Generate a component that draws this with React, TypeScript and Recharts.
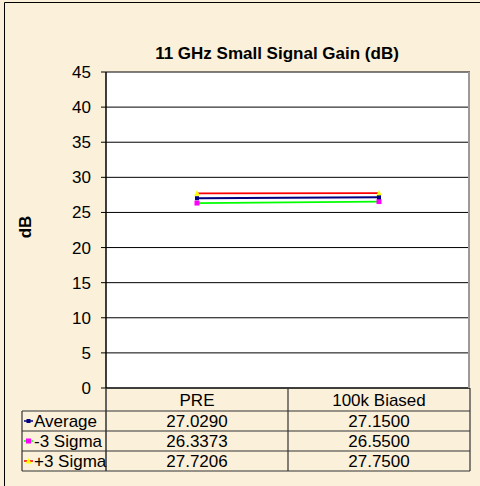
import React from 'react';
import { LineChart, Line, XAxis, YAxis, CartesianGrid } from 'recharts';

const categories = ['PRE', '100k Biased'];
const averageValues = [27.029, 27.15];
const minus3SigmaValues = [26.3373, 26.55];
const plus3SigmaValues = [27.7206, 27.75];
const yTicks = [0, 5, 10, 15, 20, 25, 30, 35, 40, 45];
const seriesNames = ['Average', '-3 Sigma', '+3 Sigma'];
const titleText = '11 GHz Small Signal Gain (dB)';
const yLabelText = 'dB';

const data = categories.map((c, i) => ({
  category: c,
  avg: averageValues[i],
  minus: minus3SigmaValues[i],
  plus: plus3SigmaValues[i],
}));

const W = 480;
const H = 486;
const PL = 106;
const PR = 470;
const PT = 72;
const PB = 388;
const ROW_H = 20;
const HEADER_BOTTOM = 411;
const TABLE_LEFT = 22;
const FONT = '"Liberation Sans", Arial, sans-serif';
const BG = '#FBF0DA';

const seriesStyles = [
  { line: '#000080', marker: '#000080', shape: 'small' },
  { line: '#00FF00', marker: '#FF00FF', shape: 'square' },
  { line: '#FF0000', marker: '#FFFF00', shape: 'triangle' },
];
const seriesValues = [averageValues, minus3SigmaValues, plus3SigmaValues];

function Marker({ cx, cy, shape, fill }: { cx: number; cy: number; shape: string; fill: string }) {
  if (shape === 'square') {
    return <rect x={cx - 2.5} y={cy - 2.5} width={5} height={5} fill={fill} />;
  }
  if (shape === 'triangle') {
    return <polygon points={`${cx},${cy - 3} ${cx + 3},${cy + 2.5} ${cx - 3},${cy + 2.5}`} fill={fill} />;
  }
  return <rect x={cx - 2} y={cy - 2} width={4} height={4} fill={fill} />;
}

function makeDot(idx: number) {
  const st = seriesStyles[idx];
  return (p: any) => {
    if (p == null || p.cx == null || p.cy == null) return <g key={`e-${idx}-${p?.index}`} />;
    return (
      <g key={`d-${idx}-${p.index}`}>
        <Marker cx={p.cx} cy={p.cy} shape={st.shape} fill={st.marker} />
      </g>
    );
  };
}

export default function App() {
  const colW = (PR - PL) / categories.length;
  return (
    <div style={{ position: 'absolute', left: 0, top: 0, width: W, height: H, background: BG, overflow: 'hidden' }}>
      <LineChart width={W} height={H} data={data} margin={{ top: PT, right: W - PR, bottom: 75, left: 0 }}>
        <CartesianGrid vertical={false} horizontal stroke="#000" strokeWidth={1} fill="#fff" fillOpacity={1} />
        <XAxis
          dataKey="category"
          scale="band"
          height={23}
          interval={0}
          tickLine={false}
          tickSize={0}
          tickMargin={6}
          axisLine={{ stroke: '#000', strokeWidth: 1.2 }}
          tick={{ fontSize: 17, fill: '#000', fontFamily: FONT }}
        />
        <YAxis
          width={PL}
          domain={[0, 45]}
          ticks={yTicks}
          interval={0}
          tickSize={5}
          tickMargin={10}
          axisLine={{ stroke: '#000', strokeWidth: 1.5 }}
          tickLine={{ stroke: '#000' }}
          tick={{ fontSize: 17, fill: '#000', fontFamily: FONT }}
        />
        <Line dataKey="minus" stroke={seriesStyles[1].line} strokeWidth={1.8} dot={makeDot(1)} isAnimationActive={false} />
        <Line dataKey="plus" stroke={seriesStyles[2].line} strokeWidth={1.6} dot={makeDot(2)} isAnimationActive={false} />
        <Line dataKey="avg" stroke={seriesStyles[0].line} strokeWidth={2} dot={makeDot(0)} isAnimationActive={false} />
      </LineChart>
      <svg
        width={W}
        height={H}
        style={{ position: 'absolute', left: 0, top: 0, pointerEvents: 'none' }}
        fontFamily={FONT}
      >
        {/* outer border */}
        <line x1={4.5} y1={2.5} x2={W} y2={2.5} stroke="#000" strokeWidth={1} />
        <line x1={4.5} y1={2.5} x2={4.5} y2={H} stroke="#000" strokeWidth={1} />
        {/* title */}
        <text x={277} y={59} textAnchor="middle" fontSize={17} fontWeight="bold" fill="#000">
          {titleText}
        </text>
        {/* y label */}
        <text
          x={0}
          y={0}
          transform={`translate(31, 227) rotate(-90)`}
          textAnchor="middle"
          fontSize={17}
          fontWeight="bold"
          fill="#000"
        >
          {yLabelText}
        </text>
        {/* plot right border */}
        <line x1={PR - 1} y1={PT} x2={PR - 1} y2={PB} stroke="#9a9a9a" strokeWidth={2} />
        {/* table grid */}
        {[0, 1, 2, 3].map((r) => (
          <line
            key={`h-${r}`}
            x1={TABLE_LEFT}
            x2={PR}
            y1={HEADER_BOTTOM + r * ROW_H}
            y2={HEADER_BOTTOM + r * ROW_H}
            stroke="#333"
            strokeWidth={1.2}
          />
        ))}
        <line x1={TABLE_LEFT} x2={TABLE_LEFT} y1={HEADER_BOTTOM} y2={HEADER_BOTTOM + 3 * ROW_H} stroke="#333" strokeWidth={1.2} />
        {categories.map((_, i) => (
          <line
            key={`v-${i}`}
            x1={PL + i * colW}
            x2={PL + i * colW}
            y1={PB}
            y2={HEADER_BOTTOM + 3 * ROW_H}
            stroke="#333"
            strokeWidth={i === 0 ? 1.5 : 1.2}
          />
        ))}
        <line x1={PR} x2={PR} y1={PB} y2={HEADER_BOTTOM + 3 * ROW_H} stroke="#333" strokeWidth={1.2} />
        {/* table rows */}
        {seriesNames.map((name, r) => {
          const cy = HEADER_BOTTOM + r * ROW_H + ROW_H / 2;
          const st = seriesStyles[r];
          return (
            <g key={`row-${r}`}>
              <line x1={24} x2={33} y1={cy} y2={cy} stroke={st.line} strokeWidth={1.5} />
              <Marker cx={28.5} cy={cy} shape={st.shape} fill={st.marker} />
              <text x={34} y={cy + 6} fontSize={17} fill="#000">
                {name}
              </text>
              {seriesValues[r].map((v, i) => (
                <text key={`t-${r}-${i}`} x={PL + colW * (i + 0.5)} y={cy + 6} textAnchor="middle" fontSize={17} fill="#000">
                  {v.toFixed(4)}
                </text>
              ))}
            </g>
          );
        })}
      </svg>
    </div>
  );
}
